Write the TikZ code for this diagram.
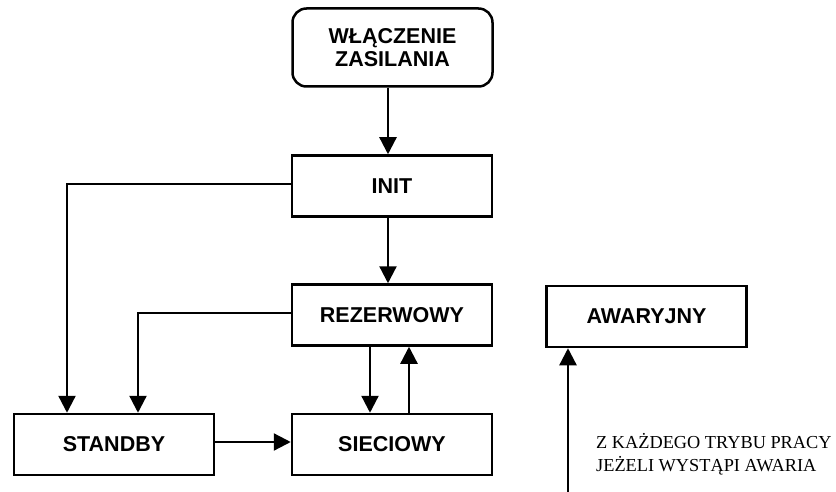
\documentclass[tikz,border=0pt]{standalone}
\usepackage{fontspec}
\setmainfont{Liberation Serif}
\newfontfamily\hv{Liberation Sans}
\usetikzlibrary{arrows.meta}
\begin{document}
\begin{tikzpicture}[x=1pt,y=-1pt,
  box/.style={draw,line width=2.5pt,minimum width=200pt,minimum height=61pt,inner sep=0pt,
    font=\hv\bfseries\fontsize{21.5}{23}\selectfont,align=center},
  arr/.style={line width=2.3pt,-{Triangle[width=17pt,length=17pt]}},
  note/.style={font=\fontsize{18.3}{23}\selectfont,align=left,inner sep=0pt,anchor=north west}]
\useasboundingbox (0,0) rectangle (836,492);
\node[box,rounded corners=14pt,minimum height=78pt] (top) at (392.5,47.5) {WŁĄCZENIE\\ZASILANIA};
\node[box] (init) at (392,186) {INIT};
\node[box] (rez) at (392,315) {REZERWOWY};
\node[box] (stand) at (114,444.5) {STANDBY};
\node[box] (siec) at (392,444.5) {SIECIOWY};
\node[box] (awar) at (646.5,316.5) {AWARYJNY};
\node[note] (txt) at (596,433) {Z KAŻDEGO TRYBU PRACY\\JEŻELI WYSTĄPI AWARIA};
\coordinate (cx) at (388,0);
\coordinate (l1) at (67,0);
\coordinate (l2) at (138,0);
\coordinate (dn) at (370,0);
\coordinate (up) at (409,0);
\coordinate (src) at (568,492);
\draw[arr] (top.south -| cx) -- (init.north -| cx);
\draw[arr] (init.south -| cx) -- (rez.north -| cx);
\draw[arr] ([yshift=2pt]init.west) -| (stand.north -| l1);
\draw[arr] ([yshift=2pt]rez.west) -| (stand.north -| l2);
\draw[arr] (rez.south -| dn) -- (siec.north -| dn);
\draw[arr] (siec.north -| up) -- (rez.south -| up);
\draw[arr] ([yshift=2.5pt]stand.east) -- ([yshift=2.5pt]siec.west);
\draw[arr] (src) -- (awar.south -| src);
\end{tikzpicture}
\end{document}
